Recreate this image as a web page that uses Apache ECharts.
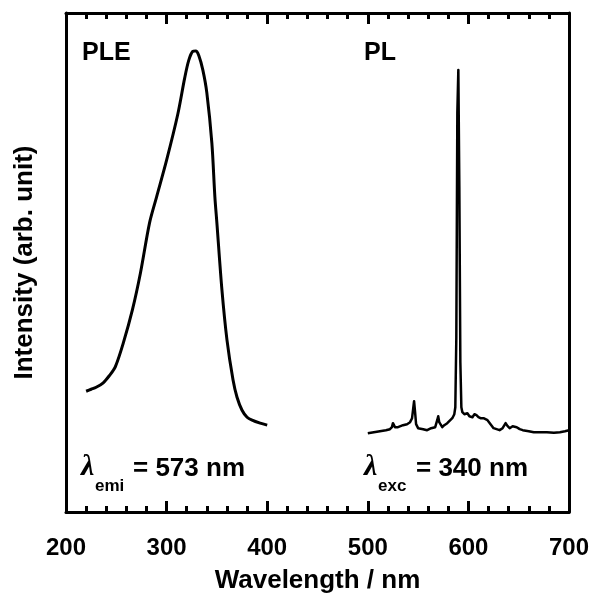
<!DOCTYPE html>
<html>
<head>
<meta charset="utf-8">
<script src="https://cdn.jsdelivr.net/npm/echarts@6/dist/echarts.min.js"></script>
<style>
html,body{margin:0;padding:0;background:#fff;}
#chart{width:594px;height:603px;}
</style>
</head>
<body>
<div id="chart"></div>
<script>
// ---- data ----
var xTickValues = [200, 300, 400, 500, 600, 700];

var pleWavelength = [220, 225, 230, 237, 243, 249, 257, 266, 274, 283, 290, 300, 311, 318, 322, 326, 329, 332, 336, 340, 345, 348, 350, 355, 360, 366, 370, 375, 380, 385, 393, 400];
var pleIntensity  = [24.2, 24.6, 25.0, 25.9, 27.3, 29.1, 33.9, 40.5, 47.9, 57.9, 63.1, 70.5, 79.6, 87.0, 90.5, 92.3, 92.4, 91.5, 88.6, 84.0, 73.9, 63.1, 57.9, 44.5, 34.5, 26.5, 23.0, 20.4, 19.0, 18.4, 17.8, 17.4];

var plWavelength = [500, 506, 512, 518, 522, 524, 525, 527, 530, 535, 539, 542, 544, 545, 546, 547, 548, 550, 555, 559, 563, 567, 569, 570, 571, 574, 576, 579, 582, 584, 586, 587, 588, 589, 590, 591, 592, 593, 594, 596, 599, 601, 604, 606, 608, 610, 612, 615, 619, 622, 625, 628, 631, 634, 637, 639, 641, 644, 648, 651, 654, 660, 665, 670, 678, 685, 691, 696, 700];
var plIntensity  = [15.8, 16.0, 16.2, 16.4, 16.6, 17.0, 17.8, 17.0, 17.0, 17.4, 17.6, 18.0, 18.8, 20.5, 22.2, 20.0, 17.6, 16.8, 16.6, 16.4, 16.8, 17.0, 18.4, 19.2, 18.0, 17.0, 17.4, 17.8, 18.4, 18.8, 19.6, 21.0, 35.0, 80.0, 88.6, 65.0, 30.0, 21.0, 20.0, 19.6, 19.8, 19.2, 19.0, 19.6, 19.4, 19.0, 18.8, 18.8, 18.4, 17.6, 16.8, 16.6, 16.4, 16.8, 17.8, 17.2, 16.8, 17.2, 17.0, 16.6, 16.4, 16.2, 16.0, 16.0, 16.0, 15.9, 16.0, 16.2, 16.4];

var xAxisTitle = 'Wavelength / nm';
var yAxisTitle = 'Intensity (arb. unit)';
var labelPLE = 'PLE';
var labelPL = 'PL';
var emiSub = 'emi', emiValue = '= 573 nm';
var excSub = 'exc', excValue = '= 340 nm';

function pairs(xs, ys) { return xs.map(function (x, i) { return [x, ys[i]]; }); }

var chart = echarts.init(document.getElementById('chart'), null, {renderer: 'canvas'});
var FONT = 'Liberation Sans, Arial, sans-serif';
var axisLine = {show: true, onZero: false, lineStyle: {color: '#000', width: 3}};

var xCommon = {
  type: 'value', min: 200, max: 700, interval: 100,
  axisLine: axisLine,
  axisTick: {show: true, inside: true, length: 11, lineStyle: {color: '#000', width: 3}},
  minorTick: {show: true, splitNumber: 5, length: 6, lineStyle: {color: '#000', width: 3}},
  splitLine: {show: false}, minorSplitLine: {show: false}
};

var option = {
  backgroundColor: '#fff',
  animation: false,
  grid: {left: 66, top: 13, width: 503, height: 499},
  xAxis: [
    Object.assign({}, xCommon, {
      position: 'bottom',
      axisLabel: {show: true, fontFamily: FONT, fontWeight: 'bold', fontSize: 24, color: '#000', margin: 24,
        customValues: xTickValues},
      name: xAxisTitle, nameLocation: 'middle', nameGap: 56,
      nameTextStyle: {fontFamily: FONT, fontWeight: 'bold', fontSize: 26, color: '#000'}
    }),
    Object.assign({}, xCommon, {position: 'top', axisLabel: {show: false}})
  ],
  yAxis: [
    {type: 'value', min: 0, max: 100, position: 'left', axisLine: axisLine,
     axisTick: {show: false}, axisLabel: {show: false}, splitLine: {show: false},
     name: yAxisTitle, nameLocation: 'middle', nameGap: 28, nameRotate: 90,
     nameTextStyle: {fontFamily: FONT, fontWeight: 'bold', fontSize: 26, color: '#000'}},
    {type: 'value', min: 0, max: 100, position: 'right', axisLine: axisLine,
     axisTick: {show: false}, axisLabel: {show: false}, splitLine: {show: false}}
  ],
  series: [
    {type: 'line', name: 'PLE', data: pairs(pleWavelength, pleIntensity), showSymbol: false, smooth: 0.3,
     lineStyle: {color: '#000', width: 3}, xAxisIndex: 0, yAxisIndex: 0},
    {type: 'line', name: 'PL', data: pairs(plWavelength, plIntensity), showSymbol: false, smooth: false,
     lineStyle: {color: '#000', width: 2.5, join: 'round'}, xAxisIndex: 0, yAxisIndex: 0}
  ],
  graphic: [
    {type: 'text', left: 82, top: 41, style: {text: labelPLE, font: 'bold 25px ' + FONT, fill: '#000'}},
    {type: 'text', left: 364, top: 41, style: {text: labelPL, font: 'bold 25px ' + FONT, fill: '#000'}},
    {type: 'text', left: 81, top: 452, style: {text: 'λ', font: 'italic bold 30px Liberation Serif, serif', fill: '#000'}},
    {type: 'text', left: 95, top: 478, style: {text: emiSub, font: 'bold 17px ' + FONT, fill: '#000'}},
    {type: 'text', left: 133, top: 456, style: {text: emiValue, font: 'bold 26px ' + FONT, fill: '#000'}},
    {type: 'text', left: 364, top: 452, style: {text: 'λ', font: 'italic bold 30px Liberation Serif, serif', fill: '#000'}},
    {type: 'text', left: 378, top: 478, style: {text: excSub, font: 'bold 17px ' + FONT, fill: '#000'}},
    {type: 'text', left: 416, top: 456, style: {text: excValue, font: 'bold 26px ' + FONT, fill: '#000'}}
  ]
};
chart.setOption(option);
</script>
</body>
</html>
